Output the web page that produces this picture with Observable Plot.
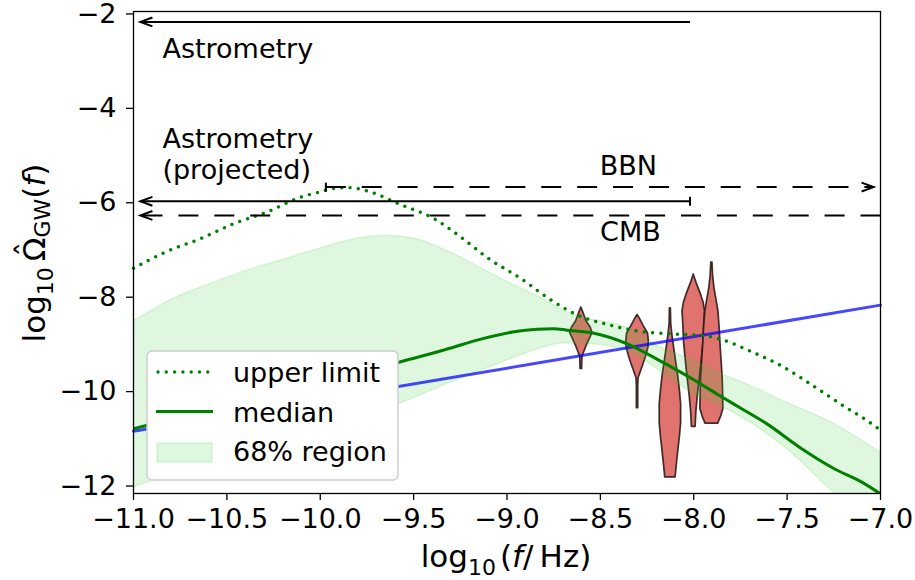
<!DOCTYPE html>
<html><head><meta charset="utf-8">
<script src="https://cdn.jsdelivr.net/npm/d3@7"></script>
<script src="https://cdn.jsdelivr.net/npm/@observablehq/plot@0.6"></script>
<style>body{margin:0;background:#fff} svg{display:block}</style>
</head><body><div id="chart"></div><script>
// ---------- data ----------
const xTicks = [-11, -10.5, -10, -9.5, -9, -8.5, -8, -7.5, -7];
const yTicks = [-12, -10, -8, -6, -4, -2];

// 68% region
const bandX  = [-11.0,-10.9,-10.8,-10.6,-10.4,-10.2,-10.0,-9.8,-9.65,-9.5,-9.3,-9.1,-8.95,-8.8,-8.7,-8.55,-8.35,-8.2,-8.0,-7.85,-7.7,-7.5,-7.25,-7.0];
const bandHi = [-8.54,-8.31,-8.09,-7.77,-7.48,-7.24,-7.00,-6.79,-6.73,-6.79,-7.09,-7.50,-7.80,-8.08,-8.31,-8.50,-8.69,-9.05,-9.38,-9.66,-9.90,-10.27,-10.71,-11.32];
const bandLo = [-12.06,-11.92,-11.78,-11.52,-11.28,-11.05,-10.82,-10.58,-10.40,-10.17,-9.84,-9.53,-9.30,-9.09,-9.01,-9.03,-9.17,-9.54,-10.08,-10.35,-10.68,-11.25,-12.17,-12.9];

// median
const medX = [-11.0,-10.75,-10.5,-10.25,-10.0,-9.75,-9.57,-9.32,-9.14,-8.97,-8.84,-8.75,-8.68,-8.54,-8.35,-8.18,-8.0,-7.86,-7.75,-7.61,-7.43,-7.25,-7.1,-7.0];
const medY = [-10.82,-10.57,-10.33,-10.08,-9.84,-9.60,-9.40,-9.13,-8.92,-8.77,-8.71,-8.70,-8.73,-8.79,-9.03,-9.38,-9.78,-10.12,-10.38,-10.71,-11.22,-11.66,-11.95,-12.2];

// upper limit
const ulX = [-11.0,-10.82,-10.64,-10.46,-10.28,-10.11,-10.0,-9.93,-9.85,-9.75,-9.57,-9.39,-9.25,-9.10,-8.92,-8.78,-8.6,-8.47,-8.30,-8.11,-7.94,-7.85,-7.70,-7.52,-7.36,-7.2,-7.07,-7.0];
const ulY = [-7.42,-7.06,-6.79,-6.47,-6.22,-5.92,-5.80,-5.73,-5.71,-5.78,-6.07,-6.37,-6.75,-7.21,-7.65,-8.05,-8.45,-8.60,-8.75,-8.81,-8.85,-8.93,-9.17,-9.51,-9.91,-10.33,-10.65,-10.85];

// power-law (blue)
const plX = [-11, -7];
const plY = [-10.87, -8.2];

// violins: centres and relative density profiles
const vX = [-8.602, -8.301, -8.125, -8.0, -7.903];
const vY = [
  [-8.25,-8.36,-8.54,-8.68,-8.79,-8.92,-9.07,-9.21,-9.31,-9.55],
  [-8.41,-8.5,-8.65,-8.8,-8.95,-9.1,-9.3,-9.5,-9.65,-9.75,-9.9,-10.38],
  [-8.27,-8.6,-8.85,-9.1,-9.4,-9.7,-10.0,-10.3,-10.7,-11.0,-11.3,-11.6,-11.85],
  [-7.55,-7.75,-7.95,-8.15,-8.33,-8.6,-9.0,-9.4,-9.75,-10.1,-10.45,-10.78],
  [-7.30,-7.6,-7.85,-8.1,-8.33,-8.7,-9.03,-9.4,-9.74,-10.1,-10.4,-10.55,-10.71]
];
const vD = [
  [0,0.18,0.45,0.82,0.97,0.73,0.45,0.23,0.09,0.07],
  [0,0.23,0.55,0.91,0.98,0.95,0.73,0.45,0.23,0.09,0.06,0.06],
  [0.04,0.07,0.18,0.32,0.5,0.68,0.82,0.93,0.93,0.82,0.68,0.55,0.45],
  [0,0.27,0.59,0.86,0.98,0.91,0.84,0.68,0.53,0.36,0.23,0.16],
  [0.05,0.11,0.23,0.41,0.57,0.68,0.75,0.85,0.94,0.98,1,0.82,0.55]
];

// limits (horizontal arrows)
const limName  = ["Astrometry", "Astrometry (projected)", "BBN", "CMB"];
const limY     = [-2.2, -6.0, -5.7, -6.3];
const limFrom  = [-8.02, -8.02, -9.97, -7.0];
const limTip   = [-10.963, -10.963, -7.037, -10.963];
const limDash  = [false, false, true, true];
const limBar   = [false, true, true, false];

// annotation labels
const labText = ["Astrometry", "Astrometry\n(projected)", "BBN", "CMB"];
const labX    = [-10.845, -10.845, -8.35, -8.339];
const labY    = [-2.76, -4.99, -5.26, -6.65];
const labAnchor = ["start", "start", "middle", "middle"];

// legend entries
const legTexts = ["upper limit", "median", "68% region"];

// ---------- build tables ----------
const band = bandX.map((x, i) => ({x, lo: bandLo[i], hi: bandHi[i]}));
const HW = 11.5 / 186.75; // max half width of a violin in x units
const violins = vX.flatMap((cx, k) => vY[k].map((y, j) => ({k, y, x1: cx - vD[k][j] * HW, x2: cx + vD[k][j] * HW})));
const lims = limName.map((n, i) => ({n, y: limY[i], x1: limFrom[i], x2: limTip[i], dash: limDash[i], bar: limBar[i], rot: limTip[i] > limFrom[i] ? 180 : 0}));
const labs = labText.map((t, i) => ({t, x: labX[i], y: labY[i], a: labAnchor[i]}));

const chevron = {draw(ctx, size) { const r = Math.sqrt(size / Math.PI); ctx.moveTo(r, -0.37 * r); ctx.lineTo(0, 0); ctx.lineTo(r, 0.37 * r); }};
const bar = {draw(ctx, size) { const r = Math.sqrt(size / Math.PI); ctx.moveTo(0, -r); ctx.lineTo(0, r); }};

const minus = s => s.replace("-", "\u2212");
const FS = 27;
const DOTS = "0.001,8.3";

const chart = Plot.plot({
  width: 915, height: 580,
  marginLeft: 133, marginRight: 35, marginTop: 11, marginBottom: 87,
  style: {fontFamily: "DejaVu Sans", fontSize: FS + "px", color: "black", background: "white"},
  x: {domain: [-11, -7]},
  y: {domain: [-12.19, -1.98]},
  marks: [
    Plot.areaX(violins, {y: "y", x1: "x1", x2: "x2", z: "k", curve: "linear", fill: "#e0736d", stroke: "#2e1c1c", strokeOpacity: 0.9, strokeWidth: 1.7}),
    Plot.areaY(band, {x: "x", y1: "lo", y2: "hi", curve: "monotone-x", fill: "#32cd32", fillOpacity: 0.16, stroke: "#32cd32", strokeOpacity: 0.14, strokeWidth: 1.5, clip: true}),
    Plot.line(d3.zip(plX, plY), {stroke: "#0000ff", strokeOpacity: 0.72, strokeWidth: 3}),
    Plot.line(d3.zip(medX, medY), {curve: "monotone-x", stroke: "#008000", strokeWidth: 3, clip: true}),
    Plot.line(d3.zip(ulX, ulY), {curve: "monotone-x", stroke: "#008000", strokeWidth: 3.4, strokeDasharray: DOTS, strokeLinecap: "round"}),
    Plot.link(lims.filter(d => !d.dash), {x1: "x1", x2: "x2", y1: "y", y2: "y", stroke: "black", strokeWidth: 2}),
    Plot.link(lims.filter(d => d.dash), {x1: "x1", x2: "x2", y1: "y", y2: "y", stroke: "black", strokeWidth: 2, strokeDasharray: "20,15.9"}),
    Plot.dot(lims, {x: "x2", y: "y", symbol: chevron, r: 12, rotate: "rot", fill: "none", stroke: "black", strokeWidth: 2}),
    Plot.dot(lims.filter(d => d.bar), {x: "x1", y: "y", symbol: bar, r: 4.5, fill: "none", stroke: "black", strokeWidth: 2}),
    Plot.text(labs, {x: "x", y: "y", text: "t", textAnchor: "start", lineAnchor: "middle", lineHeight: 1.15, fontSize: FS, fill: "black", filter: d => d.a === "start"}),
    Plot.text(labs, {x: "x", y: "y", text: "t", textAnchor: "middle", lineAnchor: "middle", fontSize: FS, fill: "black", filter: d => d.a === "middle"}),
    Plot.frame({stroke: "black", strokeWidth: 1.3}),
    Plot.axisX({ticks: xTicks, tickFormat: d => minus(d.toFixed(1)), tickSize: 7, tickPadding: 8, label: null, fontSize: FS, strokeWidth: 1.3}),
    Plot.axisY({ticks: yTicks, tickFormat: d => minus(String(d)), tickSize: 7, tickPadding: 10, label: null, fontSize: FS, strokeWidth: 1.3, dy: 1.5})
  ]
});
document.getElementById("chart").appendChild(chart);

// ---------- legend & axis titles ----------
const svg = d3.select(chart);
const lg = svg.append("g").attr("font-family", "DejaVu Sans").attr("font-size", FS).attr("text-anchor", "start");
lg.append("rect").attr("x", 147).attr("y", 351).attr("width", 251).attr("height", 129).attr("rx", 5)
  .attr("fill", "white").attr("stroke", "#cccccc").attr("stroke-width", 1.4);
lg.append("line").attr("x1", 158).attr("x2", 212).attr("y1", 372).attr("y2", 372)
  .attr("stroke", "#008000").attr("stroke-width", 3.4).attr("stroke-dasharray", DOTS).attr("stroke-linecap", "round");
lg.append("line").attr("x1", 156).attr("x2", 213).attr("y1", 411.5).attr("y2", 411.5)
  .attr("stroke", "#008000").attr("stroke-width", 3);
lg.append("rect").attr("x", 157).attr("y", 443).attr("width", 55).attr("height", 19)
  .attr("fill", "#32cd32").attr("fill-opacity", 0.16).attr("stroke", "#32cd32").attr("stroke-opacity", 0.2).attr("stroke-width", 1.2);
const legBase = [382, 421.5, 461];
legTexts.forEach((t, i) => lg.append("text").attr("x", 233).attr("y", legBase[i]).attr("text-anchor", "start").text(t));

const xl = svg.append("text").attr("x", 506).attr("y", 567).attr("text-anchor", "middle")
  .attr("font-family", "DejaVu Sans").attr("font-size", 31);
xl.append("tspan").text("log");
xl.append("tspan").attr("font-size", 22).attr("dy", 8).text("10");
xl.append("tspan").attr("dy", -8).attr("dx", 4).text("(");
xl.append("tspan").attr("font-style", "italic").text("f");
xl.append("tspan").text("/\u2009Hz)");

const yl = svg.append("text").attr("transform", "translate(45,253) rotate(-90)").attr("text-anchor", "middle")
  .attr("font-family", "DejaVu Sans").attr("font-size", 31);
yl.append("tspan").text("log");
yl.append("tspan").attr("font-size", 22).attr("dy", 8).text("10");
yl.append("tspan").attr("dy", -8).attr("dx", 6).text("\u03A9");
yl.append("tspan").attr("dx", -19.6).attr("dy", -7).text("\u02C6");
yl.append("tspan").attr("font-size", 22).attr("dx", 4.1).attr("dy", 12).text("GW");
yl.append("tspan").attr("dy", -5).text("(");
yl.append("tspan").attr("font-style", "italic").text("f");
yl.append("tspan").text(")");
</script></body></html>
